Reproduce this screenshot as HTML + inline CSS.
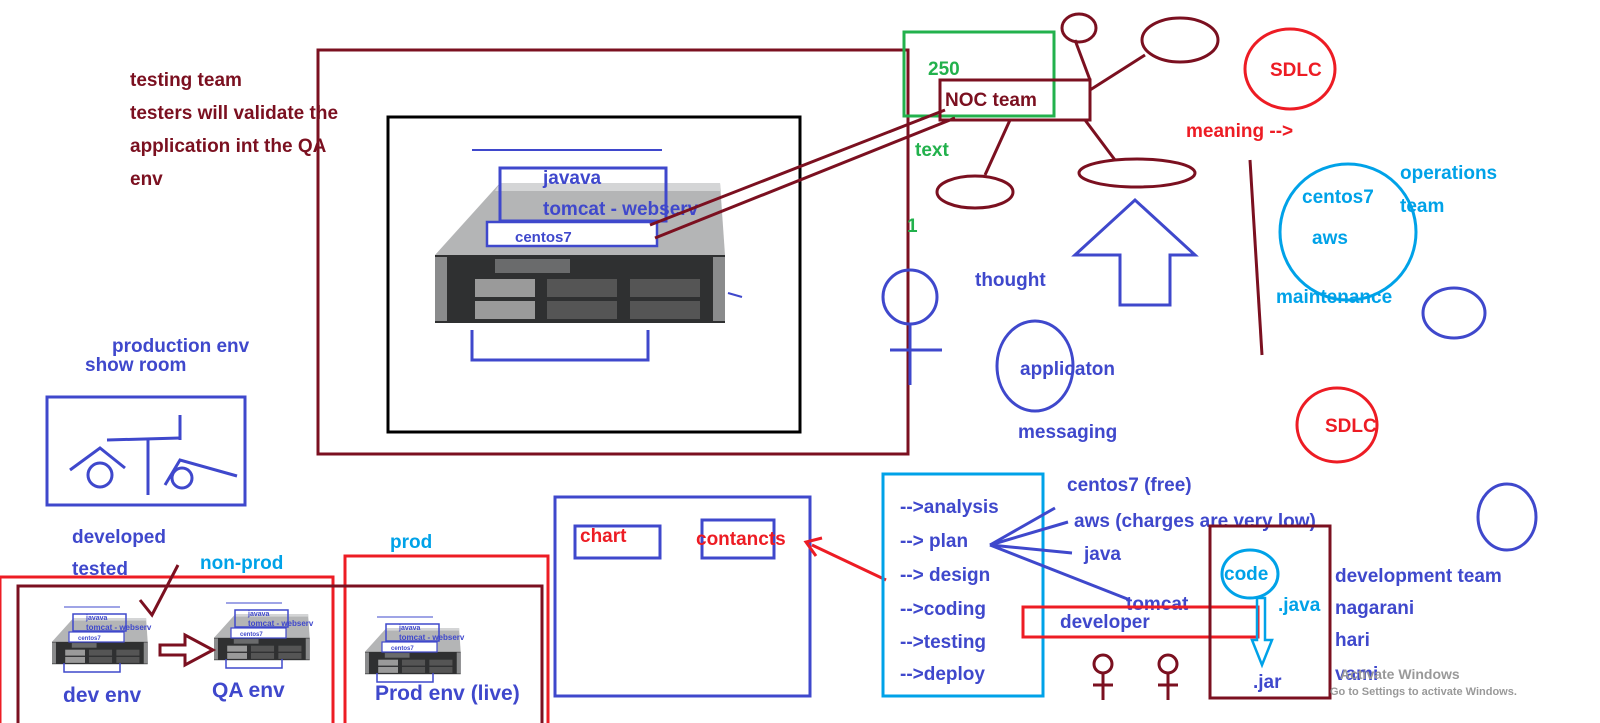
<!DOCTYPE html>
<html><head><meta charset="utf-8"><style>
html,body{margin:0;padding:0;background:#fff;width:1600px;height:723px;overflow:hidden}
svg{display:block}
text{font-family:"Liberation Sans",sans-serif;font-weight:bold}
</style></head><body>
<svg width="1600" height="723" viewBox="0 0 1600 723" xmlns="http://www.w3.org/2000/svg">
<defs>
<g id="srv">
 <polygon points="0,72 65,0 285,0 290,72" fill="#b4b5b6"/>
 <polygon points="65,0 285,0 286,8 60,8" fill="#d4d5d6"/>
 <rect x="0" y="72" width="290" height="68" fill="#2f3031"/>
 <rect x="0" y="74" width="12" height="64" fill="#8a8b8c"/>
 <rect x="278" y="74" width="12" height="64" fill="#8a8b8c"/>
 <rect x="40" y="96" width="60" height="18" fill="#9a9a9a"/>
 <rect x="40" y="118" width="60" height="18" fill="#9a9a9a"/>
 <rect x="112" y="96" width="70" height="18" fill="#555"/>
 <rect x="112" y="118" width="70" height="18" fill="#555"/>
 <rect x="195" y="96" width="70" height="18" fill="#555"/>
 <rect x="195" y="118" width="70" height="18" fill="#555"/>
 <rect x="60" y="76" width="75" height="14" fill="#6a6b6c"/>
</g>
</defs>

<g fill="#7b1020" font-size="19">
<text x="130" y="86">testing team</text>
<text x="130" y="119">testers will validate the</text>
<text x="130" y="152">application int the QA</text>
<text x="130" y="185">env</text>
</g>

<rect x="318" y="50" width="590" height="404" fill="none" stroke="#7b1020" stroke-width="3"/>
<rect x="388" y="117" width="412" height="315" fill="none" stroke="#000" stroke-width="3"/>
<use href="#srv" transform="translate(435,183)"/>
<line x1="472" y1="150" x2="662" y2="150" stroke="#3f48cc" stroke-width="2"/>
<rect x="500" y="168" width="166" height="53" fill="none" stroke="#3f48cc" stroke-width="3"/>
<text x="543" y="184" fill="#3f48cc" font-size="19">javava</text>
<text x="543" y="215" fill="#3f48cc" font-size="19">tomcat - webserv</text>
<rect x="487" y="222" width="170" height="24" fill="#fff" stroke="#3f48cc" stroke-width="2.5"/>
<text x="515" y="242" fill="#3f48cc" font-size="15">centos7</text>
<polyline points="472,330 472,360 648,360 648,330" fill="none" stroke="#3f48cc" stroke-width="3"/>
<line x1="728" y1="293" x2="742" y2="297" stroke="#3f48cc" stroke-width="2"/>

<rect x="904" y="32" width="150" height="84" fill="none" stroke="#22b14c" stroke-width="3"/>
<text x="928" y="75" fill="#22b14c" font-size="19">250</text>
<text x="915" y="156" fill="#22b14c" font-size="19">text</text>
<text x="907" y="232" fill="#22b14c" font-size="19">1</text>
<rect x="940" y="80" width="150" height="40" fill="none" stroke="#7b1020" stroke-width="3"/>
<text x="945" y="106" fill="#7b1020" font-size="19" font-weight="normal">NOC team</text>
<g stroke="#7b1020" stroke-width="3" fill="none">
<line x1="655" y1="238" x2="955" y2="118"/>
<line x1="650" y1="225" x2="945" y2="110"/>
<line x1="1075" y1="40" x2="1090" y2="80"/>
<line x1="1090" y1="90" x2="1145" y2="55"/>
<line x1="1010" y1="120" x2="985" y2="175"/>
<line x1="1085" y1="120" x2="1115" y2="160"/>
<ellipse cx="1079" cy="28" rx="17" ry="14"/>
<ellipse cx="1180" cy="40" rx="38" ry="22"/>
<ellipse cx="975" cy="192" rx="38" ry="16"/>
<ellipse cx="1137" cy="173" rx="58" ry="14"/>
<line x1="1250" y1="160" x2="1262" y2="355"/>
</g>

<g stroke="#3f48cc" stroke-width="3" fill="none">
<circle cx="910" cy="297" r="27"/>
<line x1="910" y1="325" x2="910" y2="385"/>
<line x1="890" y1="350" x2="942" y2="350"/>
<polygon points="1075,255 1135,200 1195,255 1170,255 1170,305 1120,305 1120,255"/>
<ellipse cx="1035" cy="366" rx="38" ry="45"/>
<ellipse cx="1454" cy="313" rx="31" ry="25"/>
<ellipse cx="1507" cy="517" rx="29" ry="33"/>
</g>
<text x="975" y="286" fill="#3f48cc" font-size="19">thought</text>
<text x="1020" y="375" fill="#3f48cc" font-size="19">applicaton</text>
<text x="1018" y="438" fill="#3f48cc" font-size="19">messaging</text>

<g stroke="#ed1c24" stroke-width="3" fill="none">
<ellipse cx="1290" cy="69" rx="45" ry="40"/>
<ellipse cx="1337" cy="425" rx="40" ry="37"/>
</g>
<text x="1270" y="76" fill="#ed1c24" font-size="19">SDLC</text>
<text x="1325" y="432" fill="#ed1c24" font-size="19">SDLC</text>
<text x="1186" y="137" fill="#ed1c24" font-size="19">meaning --&gt;</text>
<ellipse cx="1348" cy="232" rx="68" ry="68" fill="none" stroke="#00a2e8" stroke-width="3"/>
<g fill="#00a2e8" font-size="19">
<text x="1302" y="203">centos7</text>
<text x="1312" y="244">aws</text>
<text x="1276" y="303">maintenance</text>
<text x="1400" y="179">operations</text>
<text x="1400" y="212">team</text>
</g>

<text x="112" y="352" fill="#3f48cc" font-size="19">production env</text>
<text x="85" y="371" fill="#3f48cc" font-size="19">show room</text>
<rect x="47" y="397" width="198" height="108" fill="none" stroke="#3f48cc" stroke-width="3"/>
<g stroke="#3f48cc" stroke-width="3" fill="none">
<line x1="107" y1="440" x2="180" y2="438"/>
<line x1="180" y1="415" x2="180" y2="440"/>
<line x1="148" y1="440" x2="148" y2="495"/>
<path d="M70,470 L100,448 L125,468"/>
<circle cx="100" cy="475" r="12"/>
<path d="M165,485 L180,460 L237,476"/>
<circle cx="182" cy="478" r="10"/>
</g>
<text x="72" y="543" fill="#3f48cc" font-size="19">developed</text>
<text x="72" y="575" fill="#3f48cc" font-size="19">tested</text>
<text x="200" y="569" fill="#00a2e8" font-size="19">non-prod</text>
<text x="390" y="548" fill="#00a2e8" font-size="19">prod</text>

<rect x="0" y="577" width="333" height="150" fill="none" stroke="#ed1c24" stroke-width="3"/>
<rect x="345" y="556" width="203" height="170" fill="none" stroke="#ed1c24" stroke-width="3"/>
<rect x="18" y="586" width="524" height="140" fill="none" stroke="#7b1020" stroke-width="3"/>
<g id="mini">
<use href="#srv" transform="translate(52,618) scale(0.33)"/>
<line x1="64" y1="607" x2="120" y2="607" stroke="#3f48cc" stroke-width="1"/>
<rect x="73" y="614" width="53" height="17" fill="none" stroke="#3f48cc" stroke-width="1.5"/>
<text x="86" y="620" fill="#3f48cc" font-size="7">javava</text>
<text x="86" y="630" fill="#3f48cc" font-size="8">tomcat - webserv</text>
<rect x="69" y="632" width="55" height="10" fill="#fff" stroke="#3f48cc" stroke-width="1.2"/>
<text x="78" y="640" fill="#3f48cc" font-size="6">centos7</text>
<polyline points="64,663 64,672 120,672 120,663" fill="none" stroke="#3f48cc" stroke-width="1.5"/>
</g>
<use href="#mini" transform="translate(162,-4)"/>
<use href="#mini" transform="translate(313,10)"/>
<polygon points="160,645 185,645 185,635 213,650 185,665 185,655 160,655" fill="none" stroke="#7b1020" stroke-width="3"/>
<polyline points="140,600 152,615 178,565" fill="none" stroke="#7b1020" stroke-width="3"/>
<text x="63" y="702" fill="#3f48cc" font-size="21">dev env</text>
<text x="212" y="697" fill="#3f48cc" font-size="21">QA env</text>
<text x="375" y="700" fill="#3f48cc" font-size="21">Prod env (live)</text>

<rect x="555" y="497" width="255" height="199" fill="none" stroke="#3f48cc" stroke-width="3"/>
<rect x="575" y="526" width="85" height="32" fill="none" stroke="#3f48cc" stroke-width="3"/>
<rect x="702" y="520" width="72" height="38" fill="none" stroke="#3f48cc" stroke-width="3"/>
<text x="580" y="542" fill="#ed1c24" font-size="19">chart</text>
<text x="696" y="545" fill="#ed1c24" font-size="19">contancts</text>
<line x1="886" y1="580" x2="812" y2="545" stroke="#ed1c24" stroke-width="3"/>
<polyline points="822,538 806,542 816,556" fill="none" stroke="#ed1c24" stroke-width="3"/>

<rect x="883" y="474" width="160" height="222" fill="none" stroke="#00a2e8" stroke-width="3"/>
<g fill="#3f48cc" font-size="19">
<text x="900" y="513">--&gt;analysis</text>
<text x="900" y="547">--&gt; plan</text>
<text x="900" y="581">--&gt; design</text>
<text x="900" y="615">--&gt;coding</text>
<text x="900" y="648">--&gt;testing</text>
<text x="900" y="680">--&gt;deploy</text>
<text x="1067" y="491">centos7 (free)</text>
<text x="1074" y="527">aws (charges are very low)</text>
<text x="1084" y="560">java</text>
<text x="1126" y="610">tomcat</text>
<text x="1060" y="628">developer</text>
</g>
<g stroke="#3f48cc" stroke-width="3" fill="none">
<line x1="990" y1="545" x2="1055" y2="508"/>
<line x1="990" y1="545" x2="1068" y2="522"/>
<line x1="990" y1="545" x2="1072" y2="553"/>
<line x1="990" y1="545" x2="1130" y2="600"/>
</g>
<rect x="1023" y="607" width="235" height="30" fill="none" stroke="#ed1c24" stroke-width="3"/>
<rect x="1210" y="526" width="120" height="172" fill="none" stroke="#7b1020" stroke-width="3"/>
<ellipse cx="1250" cy="574" rx="28" ry="24" fill="none" stroke="#00a2e8" stroke-width="3"/>
<text x="1224" y="580" fill="#00a2e8" font-size="19">code</text>
<text x="1278" y="611" fill="#00a2e8" font-size="19">.java</text>
<polygon points="1257,598 1265,598 1265,640 1272,640 1262,665 1252,640 1257,640" fill="none" stroke="#00a2e8" stroke-width="2.5"/>
<text x="1253" y="688" fill="#3f48cc" font-size="19">.jar</text>
<g fill="#3f48cc" font-size="19">
<text x="1335" y="582">development team</text>
<text x="1335" y="614">nagarani</text>
<text x="1335" y="646">hari</text>
<text x="1335" y="680">vami</text>
</g>
<text x="1340" y="679" fill="#999" font-size="14" font-weight="normal">Activate Windows</text>
<text x="1330" y="695" fill="#999" font-size="11" font-weight="normal">Go to Settings to activate Windows.</text>
<g stroke="#7b1020" stroke-width="3" fill="none">
<circle cx="1103" cy="664" r="9"/><line x1="1103" y1="673" x2="1103" y2="700"/><line x1="1093" y1="685" x2="1113" y2="685"/>
<circle cx="1168" cy="664" r="9"/><line x1="1168" y1="673" x2="1168" y2="700"/><line x1="1158" y1="685" x2="1178" y2="685"/>
</g>
</svg>
</body></html>
